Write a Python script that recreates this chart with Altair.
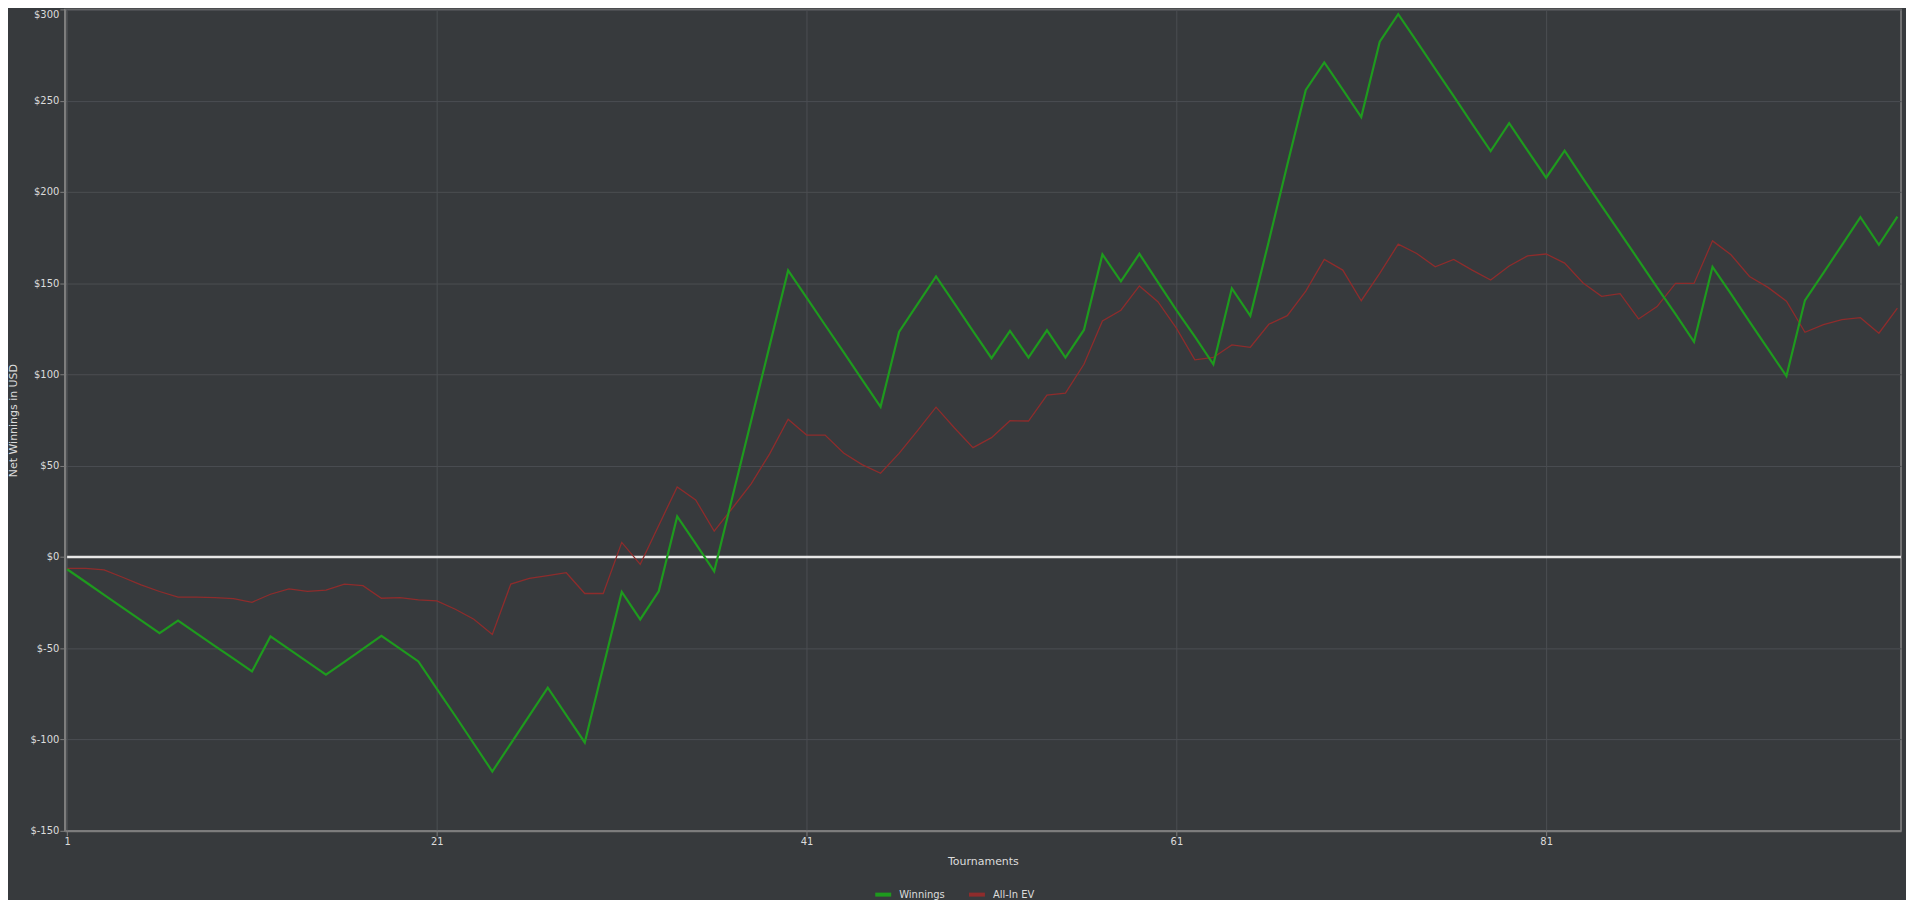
import altair as alt
import pandas as pd

tournaments = list(range(1, 101))

winnings = [
    -6.7, -13.7, -20.7, -27.7, -34.7, -41.7, -34.8, -41.8, -48.8, -55.7,
    -62.7, -43.5, -50.5, -57.5, -64.5, -57.4, -50.3, -43.2, -50.2, -57.2,
    -72.3, -87.1, -102.3, -117.5, -102.2, -86.9, -71.6, -86.6, -101.6, -60.3,
    -19.1, -34.2, -18.8, 22.2, 7.3, -7.8, 33.4, 74.6, 115.8, 157.0,
    142.1, 127.1, 112.2, 97.2, 82.3, 123.3, 138.5, 153.7, 138.8, 123.8,
    108.9, 123.9, 109.3, 124.2, 109.3, 124.4, 165.8, 151.0, 166.1, 150.6,
    135.3, 120.8, 105.6, 147.2, 132.1, 173.0, 214.9, 255.9, 271.0, 256.1,
    241.0, 282.3, 297.4, 282.5, 267.4, 252.5, 237.3, 222.4, 237.7, 222.6,
    207.8, 222.6, 207.3, 192.4, 177.6, 162.7, 147.7, 133.0, 117.9, 159.0,
    144.1, 129.0, 114.0, 99.1, 140.6, 155.7, 170.9, 186.2, 171.0, 186.5,
]

all_in_ev = [
    -6.2, -6.2, -7.1, -11.1, -15.3, -18.9, -22.0, -22.0, -22.2, -22.8,
    -24.8, -20.4, -17.5, -18.8, -18.2, -14.9, -15.7, -22.6, -22.2, -23.5,
    -24.0, -28.6, -34.1, -42.4, -14.8, -11.7, -10.2, -8.6, -20.0, -20.0,
    8.0, -4.0, 17.3, 38.4, 31.3, 14.2, 27.0, 40.1, 56.5, 75.5,
    66.8, 66.8, 57.0, 50.6, 45.9, 56.8, 69.2, 82.1, 70.7, 59.9,
    65.4, 74.7, 74.5, 88.7, 89.8, 105.6, 129.3, 135.2, 148.5, 139.9,
    125.4, 108.0, 109.3, 116.2, 114.9, 127.5, 132.2, 145.7, 163.0, 157.2,
    140.4, 155.4, 171.4, 166.3, 159.0, 163.0, 157.2, 151.7, 159.4, 165.0,
    166.0, 161.0, 150.1, 142.8, 144.3, 130.4, 137.2, 149.9, 149.9, 173.2,
    165.6, 153.7, 147.7, 140.1, 123.1, 127.3, 130.1, 131.1, 122.6, 136.4,
]

series_names = ["Winnings", "All-In EV"]
series_colors = ["#1e9a1e", "#8e2c2c"]
x_ticks = [1, 21, 41, 61, 81]
y_ticks = [-150, -100, -50, 0, 50, 100, 150, 200, 250, 300]

df = pd.DataFrame({
    "Tournament": tournaments * 2,
    "Value": winnings + all_in_ev,
    "Series": [series_names[0]] * len(winnings) + [series_names[1]] * len(all_in_ev),
})

W, H = 1842, 824
FONT = "DejaVu Sans"
TXT = "#dcdcdc"
AXC = "#7d7d7d"
FRAME = "#868686"
GRID = "#4b4e52"

x_scale = alt.Scale(domain=[0.876, 100.196], nice=False, zero=False)
y_scale = alt.Scale(domain=[-150, 300], nice=False)

x_enc = alt.X(
    "Tournament:Q",
    scale=x_scale,
    axis=alt.Axis(
        values=x_ticks, title="Tournaments", grid=True, gridColor=GRID,
        domainColor=AXC, domainWidth=2, tickColor=AXC, tickSize=5,
        labelColor=TXT, labelFont=FONT, labelFontSize=10, labelPadding=1,
        titleColor=TXT, titleFont=FONT, titleFontSize=11, titleFontWeight="normal",
        titleY=31, titleBaseline="middle", titleX=W / 2,
    ),
)
y_enc = alt.Y(
    "Value:Q",
    scale=y_scale,
    axis=alt.Axis(
        values=y_ticks, title="Net Winnings in USD", grid=True, gridColor=GRID,
        domainColor=AXC, domainWidth=2, tickColor=AXC, tickSize=5,
        labelColor=TXT, labelFont=FONT, labelFontSize=10, labelPadding=1,
        labelExpr="'$' + datum.value",
        labelBaseline={"condition": {"test": "datum.value == 300", "value": "top"}, "value": "middle"},
        titleColor=TXT, titleFont=FONT, titleFontSize=11, titleFontWeight="normal",
        titleX=-51, titleY=H / 2, titleAngle=270, titleBaseline="middle", titleAlign="center",
    ),
)
color_enc = alt.Color(
    "Series:N",
    scale=alt.Scale(domain=series_names, range=series_colors),
    legend=alt.Legend(
        title=None, orient="none", legendX=811, legendY=878, direction="horizontal",
        symbolType="stroke", symbolStrokeWidth=4, symbolSize=256,
        labelColor=TXT, labelFont=FONT, labelFontSize=10, labelOffset=6,
        columnPadding=16, padding=0,
    ),
)

base = alt.Chart(df)

zero_rule = alt.Chart(pd.DataFrame({"v": [0]})).mark_rule(
    color="#e8e8e8", strokeWidth=2.5
).encode(
    y=alt.Y("v:Q", scale=y_scale),
    x=alt.datum(1),
    x2=alt.value(W),
)

red_line = base.transform_filter(
    alt.datum.Series == series_names[1]
).mark_line(strokeWidth=1.3).encode(x=x_enc, y=y_enc, color=color_enc)

green_line = base.transform_filter(
    alt.datum.Series == series_names[0]
).mark_line(strokeWidth=2.2).encode(x=x_enc, y=y_enc, color=color_enc)

chart = alt.layer(zero_rule, red_line, green_line).properties(
    width=W, height=H,
    autosize=alt.AutoSizeParams(type="none"),
    padding={"left": 57, "top": 0, "right": 5, "bottom": 68},
    background="#373a3d",
).configure_view(
    stroke=FRAME, strokeWidth=1.5, fill="#373a3d"
)

chart.save("out.html", embed_options={"renderer": "svg", "actions": False})
